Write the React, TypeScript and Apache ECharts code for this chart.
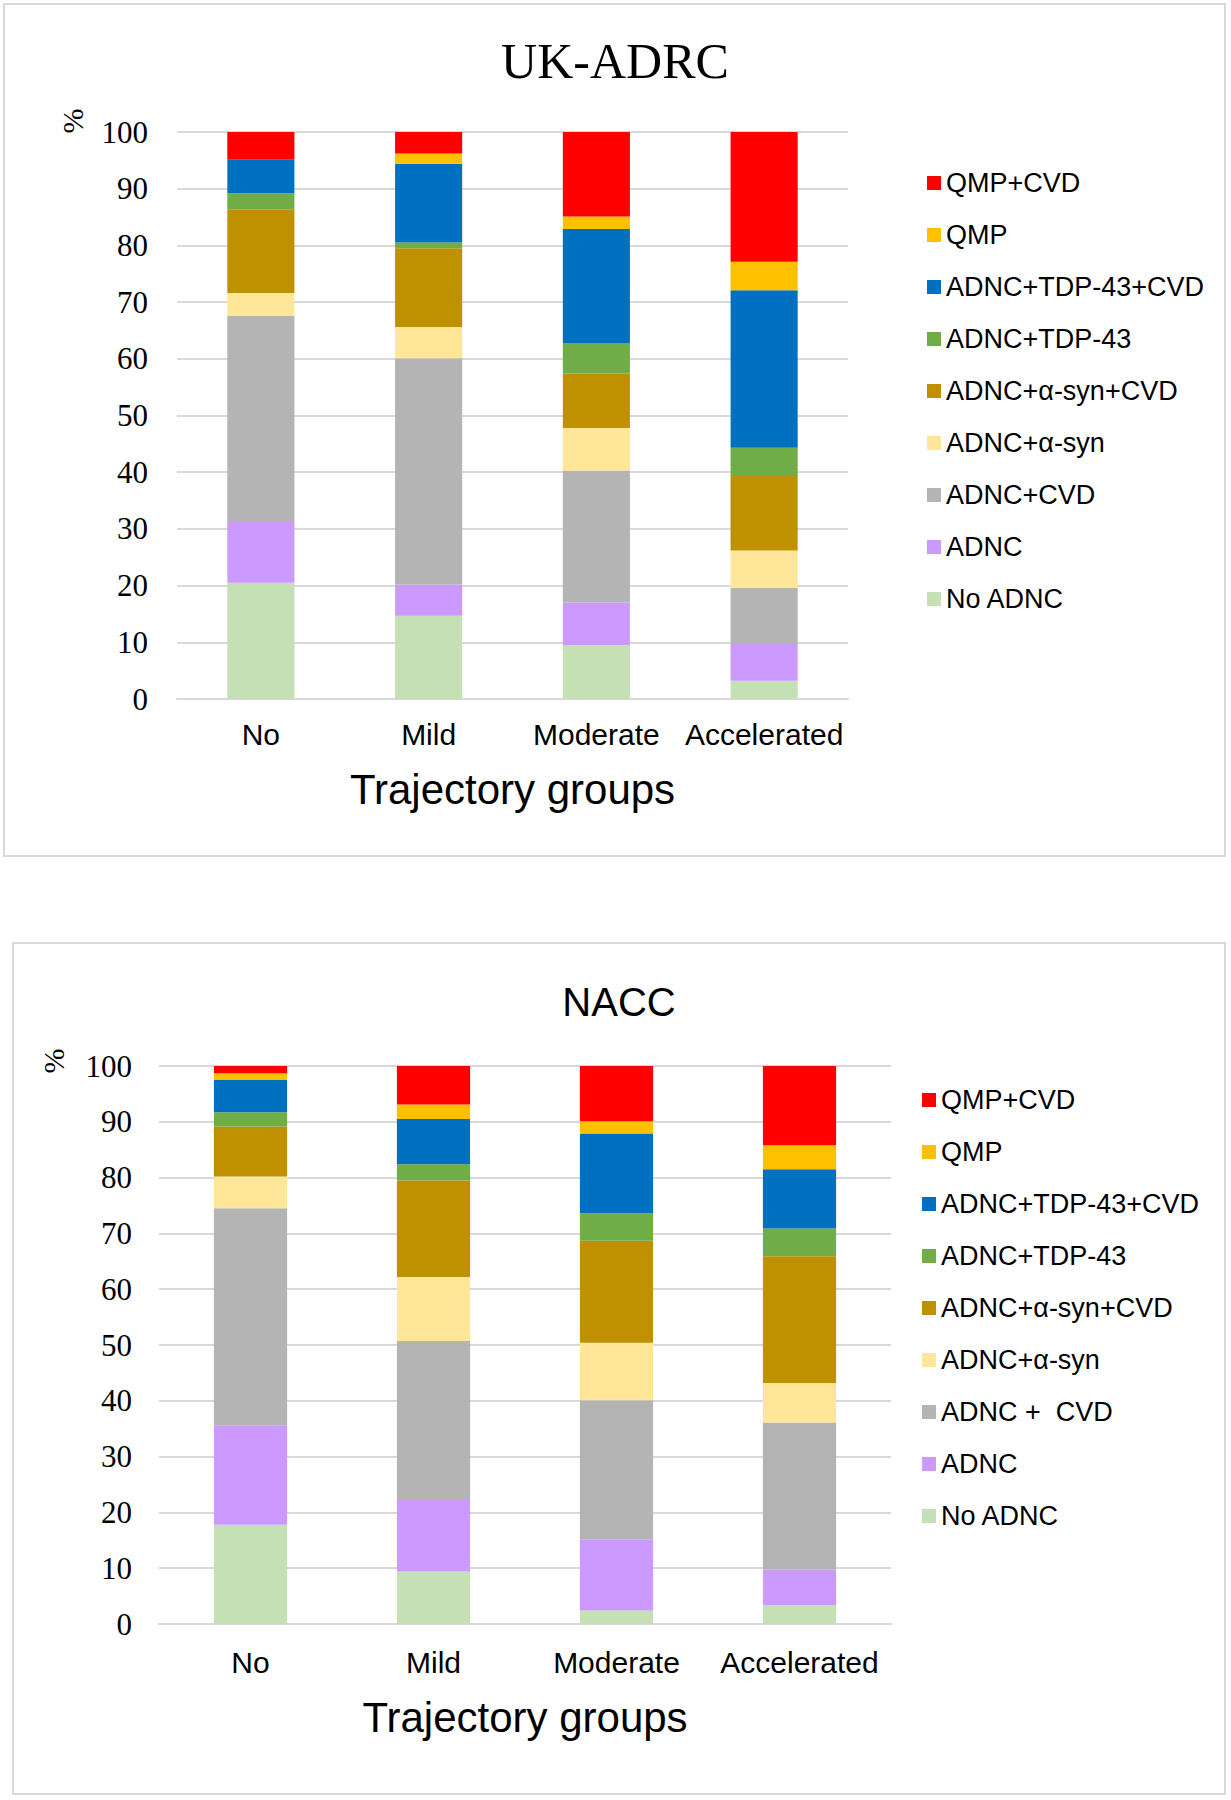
import React, { useEffect, useRef } from "react";
import * as echarts from "echarts";

const categories = ["No", "Mild", "Moderate", "Accelerated"];

const seriesNamesUK = [
  "No ADNC",
  "ADNC",
  "ADNC+CVD",
  "ADNC+α-syn",
  "ADNC+α-syn+CVD",
  "ADNC+TDP-43",
  "ADNC+TDP-43+CVD",
  "QMP",
  "QMP+CVD",
];
const seriesNamesNACC = [
  "No ADNC",
  "ADNC",
  "ADNC +  CVD",
  "ADNC+α-syn",
  "ADNC+α-syn+CVD",
  "ADNC+TDP-43",
  "ADNC+TDP-43+CVD",
  "QMP",
  "QMP+CVD",
];

// UK-ADRC values (%), per trajectory group
const ukNoADNC = [20.5, 14.7, 9.5, 3.2];
const ukADNC = [10.9, 5.5, 7.5, 6.5];
const ukADNC_CVD = [36.2, 39.9, 23.3, 9.9];
const ukAsyn = [4.0, 5.5, 7.5, 6.6];
const ukAsyn_CVD = [14.7, 13.9, 9.6, 13.3];
const ukTDP = [2.9, 1.0, 5.3, 4.8];
const ukTDP_CVD = [5.9, 13.9, 20.2, 27.8];
const ukQMP = [0, 1.8, 2.2, 5.0];
const ukQMP_CVD = [4.9, 3.8, 14.9, 22.9];

// NACC values (%), per trajectory group
const naNoADNC = [17.8, 9.4, 2.4, 3.4];
const naADNC = [17.8, 13.0, 12.7, 6.3];
const naADNC_CVD = [38.9, 28.3, 25.0, 26.4];
const naAsyn = [5.7, 11.5, 10.3, 7.1];
const naAsyn_CVD = [8.9, 17.3, 18.3, 22.7];
const naTDP = [2.6, 2.9, 4.9, 5.0];
const naTDP_CVD = [5.8, 8.1, 14.3, 10.6];
const naQMP = [1.2, 2.6, 2.2, 4.3];
const naQMP_CVD = [1.3, 6.9, 9.9, 14.2];

const yTicks = { min: 0, max: 100, interval: 10 };

const colors = [
  "#C5E0B4",
  "#CC99FF",
  "#B4B4B4",
  "#FFE699",
  "#BF9000",
  "#70AD47",
  "#0070C0",
  "#FFC000",
  "#FF0000",
];

const ukData = [ukNoADNC, ukADNC, ukADNC_CVD, ukAsyn, ukAsyn_CVD, ukTDP, ukTDP_CVD, ukQMP, ukQMP_CVD];
const naData = [naNoADNC, naADNC, naADNC_CVD, naAsyn, naAsyn_CVD, naTDP, naTDP_CVD, naQMP, naQMP_CVD];

const SANS = "Liberation Sans";
const SERIF = "Liberation Serif";
const GRID_COLOR = "#D9D9D9";

export default function App() {
  const ref = useRef<HTMLDivElement>(null);

  useEffect(() => {
    document.body.style.margin = "0";
    if (!ref.current) return;
    const chart = echarts.init(ref.current, null, { renderer: "svg" });

    const makeX = (gridIndex: number, labelMargin: number, nameGap: number) => ({
      type: "category",
      gridIndex,
      data: categories,
      axisLine: { show: true, lineStyle: { color: GRID_COLOR, width: 2 } },
      axisTick: { show: false },
      axisLabel: { interval: 0, fontFamily: SANS, fontSize: 30, color: "#000", margin: labelMargin },
      name: "Trajectory groups",
      nameLocation: "middle",
      nameGap,
      nameTextStyle: { fontFamily: SANS, fontSize: 42, color: "#000" },
    });

    const makeY = (gridIndex: number, labelMargin: number) => ({
      type: "value",
      gridIndex,
      min: yTicks.min,
      max: yTicks.max,
      interval: yTicks.interval,
      axisLine: { show: false },
      axisTick: { show: false },
      splitLine: { lineStyle: { color: GRID_COLOR, width: 2 } },
      axisLabel: {
        fontFamily: SERIF,
        fontSize: 31,
        color: "#000",
        margin: labelMargin,
      },
    });

    const makeLegend = (names: string[], left: number, top: number) => ({
      orient: "vertical",
      left,
      top,
      padding: 0,
      icon: "rect",
      itemWidth: 14,
      itemHeight: 14,
      itemGap: 22,
      selectedMode: false,
      textStyle: { fontFamily: SANS, fontSize: 27, color: "#000", lineHeight: 30 },
      data: [...names].reverse(),
    });

    const series: any[] = [];
    seriesNamesUK.forEach((name, i) => {
      series.push({
        type: "bar",
        name,
        stack: "uk",
        xAxisIndex: 0,
        yAxisIndex: 0,
        barWidth: "40%",
        itemStyle: { color: colors[i] },
        data: ukData[i],
      });
    });
    seriesNamesNACC.forEach((name, i) => {
      series.push({
        type: "bar",
        name,
        stack: "nacc",
        xAxisIndex: 1,
        yAxisIndex: 1,
        barWidth: "40%",
        itemStyle: { color: colors[i] },
        data: naData[i],
      });
    });

    chart.setOption({
      animation: false,
      backgroundColor: "#fff",
      grid: [
        { left: 177, right: 1231 - 848, top: 132, height: 567 },
        { left: 159, right: 1231 - 891, top: 1066, height: 558 },
      ],
      xAxis: [makeX(0, 20, 69), makeX(1, 23, 72)],
      yAxis: [makeY(0, 29), makeY(1, 27)],
      legend: [makeLegend(seriesNamesUK, 927, 168), makeLegend(seriesNamesNACC, 922, 1085)],
      series,
      graphic: [
        {
          type: "rect",
          shape: { x: 4, y: 4, width: 1221, height: 852 },
          style: { fill: "none", stroke: GRID_COLOR, lineWidth: 2 },
          silent: true,
        },
        {
          type: "rect",
          shape: { x: 13, y: 943, width: 1212, height: 851 },
          style: { fill: "none", stroke: GRID_COLOR, lineWidth: 2 },
          silent: true,
        },
        {
          type: "text",
          x: 615,
          y: 61,
          style: {
            text: "UK-ADRC",
            font: "50px 'Liberation Serif', serif",
            fill: "#000",
            textAlign: "center",
            textVerticalAlign: "middle",
          },
        },
        {
          type: "text",
          x: 619,
          y: 1002,
          style: {
            text: "NACC",
            font: "40px 'Liberation Sans', sans-serif",
            fill: "#000",
            textAlign: "center",
            textVerticalAlign: "middle",
          },
        },
        {
          type: "text",
          x: 72,
          y: 121,
          rotation: Math.PI / 2,
          style: {
            text: "%",
            font: "30px 'Liberation Serif', serif",
            fill: "#000",
            textAlign: "center",
            textVerticalAlign: "middle",
          },
        },
        {
          type: "text",
          x: 53,
          y: 1061,
          rotation: Math.PI / 2,
          style: {
            text: "%",
            font: "30px 'Liberation Serif', serif",
            fill: "#000",
            textAlign: "center",
            textVerticalAlign: "middle",
          },
        },
      ],
    });

    return () => chart.dispose();
  }, []);

  return (
    <div
      ref={ref}
      style={{ position: "absolute", left: 0, top: 0, width: 1231, height: 1800 }}
    />
  );
}
